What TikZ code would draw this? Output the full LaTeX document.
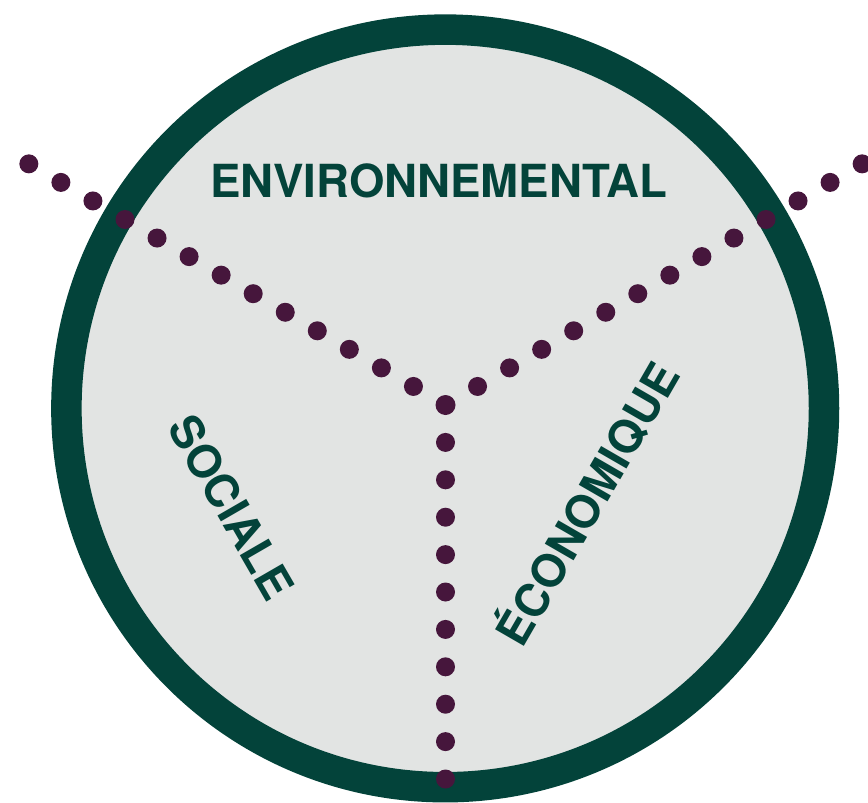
\documentclass[tikz,border=0pt]{standalone}
\usepackage{fontspec}
\setmainfont{TeX Gyre Heros}
\definecolor{ringgreen}{HTML}{03433A}
\definecolor{discfill}{HTML}{E2E4E3}
\definecolor{dotpurple}{HTML}{46163C}
\begin{document}
\begin{tikzpicture}[x=1pt,y=-1pt,
  ring/.style={draw=ringgreen,line width=30.5pt,fill=discfill},
  dotmark/.style={fill=dotpurple},
  lbl/.style={text=ringgreen,font=\fontsize{45.6}{45.6}\selectfont\bfseries,
    inner sep=0pt,text height=32.7pt,text depth=0pt}]
\useasboundingbox (0,0) rectangle (868,803);
% disc with ring
\coordinate (O) at (445.2,408.4);
\draw[ring] (O) circle[radius=378.8pt];
% dotted Y
\coordinate (C) at (445.5,405);
\fill[dotmark] (C) circle[radius=10pt];
\foreach \k in {1,...,10}
  \fill[dotmark] (445.5,405+\k*37.4) circle[radius=9.5pt];
\foreach \k in {1,...,13}{
  \fill[dotmark] (445.5+\k*32.05,405-\k*18.55) circle[radius=9.5pt];
  \fill[dotmark] (445.5-\k*32.05,405-\k*18.55) circle[radius=9.5pt];
}
% labels
\node[lbl] (env) at (438.5,181.4) {ENVIRONNEMENTAL};
\node[lbl,rotate=-60] (soc) at (231.5,507.5) {SOCIALE};
\node[lbl,rotate=60] (eco) at (588,504) {ÉCONOMIQUE};
\end{tikzpicture}
\end{document}
